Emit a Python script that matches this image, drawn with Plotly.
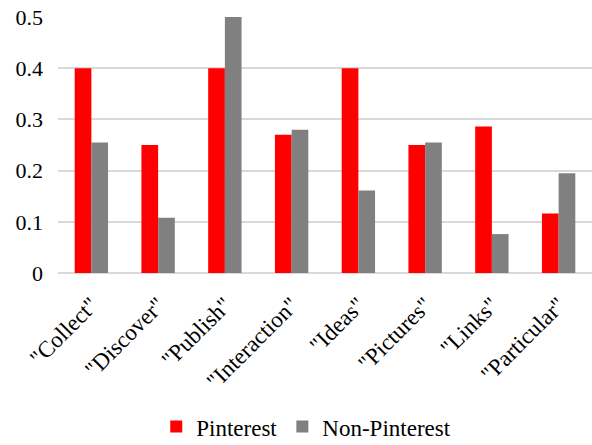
import plotly.graph_objects as go

categories = ['"Collect"', '"Discover"', '"Publish"', '"Interaction"', '"Ideas"', '"Pictures"', '"Links"', '"Particular"']
pinterest = [0.40, 0.25, 0.40, 0.27, 0.40, 0.25, 0.286, 0.116]
non_pinterest = [0.255, 0.108, 0.50, 0.28, 0.161, 0.255, 0.076, 0.195]
y_ticks = [0, 0.1, 0.2, 0.3, 0.4, 0.5]
y_tick_labels = ["0", "0.1", "0.2", "0.3", "0.4", "0.5"]

FONT = "Liberation Serif"

fig = go.Figure()
fig.add_trace(go.Bar(x=categories, y=pinterest, name="Pinterest",
                     marker=dict(color="#ff0000", line=dict(width=0))))
fig.add_trace(go.Bar(x=categories, y=non_pinterest, name="Non-Pinterest",
                     marker=dict(color="#808080", line=dict(width=0))))

fig.update_layout(
    width=592, height=445,
    margin=dict(l=58, r=0, t=17, b=172, autoexpand=False),
    paper_bgcolor="white", plot_bgcolor="white",
    barmode="group", bargap=0.5, bargroupgap=0,
    font=dict(family=FONT, size=22, color="#000000"),
    showlegend=True,
    legend=dict(orientation="h", x=0.184, xanchor="left",
                y=-0.6, yref="paper", yanchor="middle",
                font=dict(family=FONT, size=23, color="#000000"),
                itemwidth=30, traceorder="normal"),
)
fig.update_xaxes(tickangle=-45, showgrid=False, showline=False, ticks="",
                 ticklabelstandoff=13,
                 tickfont=dict(family=FONT, size=23, color="#000000"))
fig.update_yaxes(range=[0, 0.5], tickvals=y_ticks, ticktext=y_tick_labels,
                 showgrid=True, gridcolor="#d9d9d9", gridwidth=1.5,
                 zeroline=True, zerolinecolor="#d9d9d9", zerolinewidth=1.5,
                 showline=False, ticks="", ticklabelstandoff=14,
                 tickfont=dict(family=FONT, size=22, color="#000000"))

fig.write_html("out.html")
